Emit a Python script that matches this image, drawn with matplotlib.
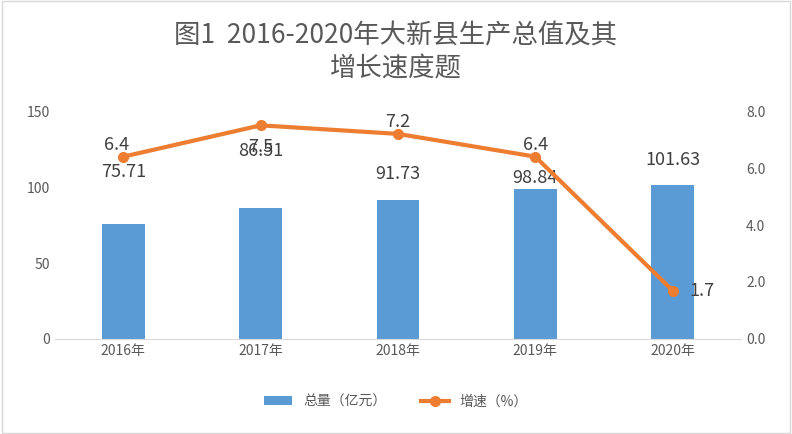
import matplotlib.pyplot as plt
import numpy as np

plt.rcParams['font.family'] = ['Noto Sans CJK SC', 'DejaVu Sans']

years = ["2016年", "2017年", "2018年", "2019年", "2020年"]
totals = [75.71, 86.51, 91.73, 98.84, 101.63]
growth = [6.4, 7.5, 7.2, 6.4, 1.7]

bar_c = "#5B9BD5"
line_c = "#ED7D31"
txt_c = "#404040"

fig = plt.figure(figsize=(7.92, 4.34), dpi=100)
fig.patches.append(plt.Rectangle((0.002, 0.003), 0.996, 0.994, transform=fig.transFigure,
                                 fill=False, edgecolor="#D9D9D9", lw=1))
ax = fig.add_axes([0.069, 0.219, 0.867, 0.525])
x = np.arange(len(years))
ax.bar(x, totals, width=0.31, color=bar_c, label="总量（亿元）", zorder=2)
ax.set_ylim(0, 150)
ax.set_yticks([0, 50, 100, 150])
ax.set_xlim(-0.5, 4.5)
ax.set_xticks(x)
ax.set_xticklabels(years)
for s in ["top", "right", "left"]:
    ax.spines[s].set_visible(False)
ax.spines["bottom"].set_color("#D9D9D9")
ax.tick_params(length=0, colors="#595959", labelsize=10)
bar_lab_off = [34, 37, 17, 7, 16]
for xi, v, d in zip(x, totals, bar_lab_off):
    ax.text(xi, v + d, f"{v:g}", ha="center", va="center", fontsize=13, color=txt_c)

ax2 = ax.twinx()
ax2.plot(x, growth, color=line_c, lw=3, marker="o", ms=7, label="增速（%）", zorder=3)
ax2.set_ylim(0, 8)
ax2.set_yticks(np.arange(0, 8.1, 2))
ax2.set_yticklabels([f"{v:.1f}" for v in np.arange(0, 8.1, 2)])
for s in ["top", "right", "left", "bottom"]:
    ax2.spines[s].set_visible(False)
ax2.tick_params(length=0, colors="#595959", labelsize=10)
offs = [(-0.05, 0.4), (0, -0.75), (0, 0.4), (0, 0.4), (0.12, 0)]
for xi, v, (dx, dy) in zip(x, growth, offs):
    ha = "left" if dx > 0.1 else "center"
    ax2.text(xi + dx, v + dy, f"{v:g}", ha=ha, va="center", fontsize=13, color=txt_c)

fig.text(0.5, 0.918, "图1  2016-2020年大新县生产总值及其", ha="center", va="center",
         fontsize=19, color="#595959")
fig.text(0.5, 0.84, "增长速度题", ha="center", va="center", fontsize=19, color="#595959")

h1, l1 = ax.get_legend_handles_labels()
h2, l2 = ax2.get_legend_handles_labels()
fig.legend(h1 + h2, l1 + l2, loc="center", bbox_to_anchor=(0.5, 0.075), ncol=2,
           frameon=False, fontsize=10, labelcolor="#595959", columnspacing=2.5)
fig.savefig("out.png", dpi=100)
